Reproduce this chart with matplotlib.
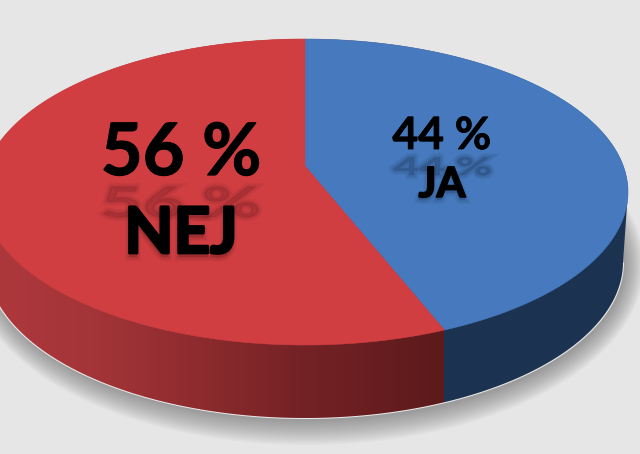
import numpy as np
import matplotlib
matplotlib.use('Agg')
import matplotlib.pyplot as plt
import matplotlib.patheffects as pe
from matplotlib.patches import Polygon, PathPatch
from matplotlib.path import Path
from matplotlib.textpath import TextPath
from matplotlib.font_manager import FontProperties
from matplotlib.transforms import Affine2D
from matplotlib.colors import LinearSegmentedColormap

labels = ['JA', 'NEJ']
shares = [44, 56]
top_colors = ['#4679bd', '#d03e42']

W, H = 640, 454
BG = '#e6e6e6'
cx, cy, rx, ry = 305, 192, 323, 153   # top ellipse
vx, vy = 305, 166                     # where the slices meet (perspective)
bx, by, brx, bry = 305, 262, 318, 156 # bottom ellipse
warp = 0.975                          # perspective squeeze of the first slice
font = 'Lato'


def arc(x0, y0, a, b, t0, t1, n=300):
    # angle measured clockwise from the top, in degrees
    t = np.radians(np.linspace(t0, t1, n))
    return np.column_stack([x0 + a * np.sin(t), y0 - b * np.cos(t)])


fig = plt.figure(figsize=(W / 100, H / 100), dpi=100, facecolor=BG)
ax = fig.add_axes([0, 0, 1, 1])
ax.set_xlim(0, W)
ax.set_ylim(H, 0)
ax.axis('off')

split = 360 * shares[0] / sum(shares) * warp
split_x = cx + rx * np.sin(np.radians(split))

# soft shadow under the pie
steps = 16
for i in range(steps):
    grow = 24 * (1 - i / (steps - 1))
    ax.add_patch(Polygon(arc(bx + 2, by + 3, brx + grow * 0.8, bry + grow, 0, 360),
                         closed=True, fc='#555555', ec='none', alpha=0.04, zorder=1))

# side wall: pale rim, then gradient clipped to the outline
hull = np.vstack([arc(cx, cy, rx, ry, -90, 90), arc(bx, by, brx, bry, 90, 270)])
ax.add_patch(Polygon(arc(bx, by + 0.5, brx + 1, bry + 0.5, 90, 270), closed=True,
                     fc='#e8e8e8', ec='none', zorder=2))
red_side = LinearSegmentedColormap.from_list('red_side', [
    (0.0, '#ad383c'), (0.23, '#a23437'), (0.45, '#8d2b2e'),
    (0.68, '#742225'), (1.0, '#5c1a1b')])
blue_side = LinearSegmentedColormap.from_list('blue_side', ['#1b3250', '#1c3452'])
xs = np.arange(W) + 0.5
row = np.where((xs < split_x)[:, None], red_side(np.clip(xs / split_x, 0, 1))[:, :3],
               blue_side(np.clip((xs - split_x) / (W - split_x), 0, 1))[:, :3])
im = ax.imshow(row[None, :, :], extent=(0, W, H, 0), aspect='auto', zorder=3,
               interpolation='bilinear')
im.set_clip_path(Polygon(hull, closed=True, transform=ax.transData))

# top face
start = 0.0
ends = [split, 360.0]
for color, end in zip(top_colors, ends):
    pts = np.vstack([[vx, vy], arc(cx, cy, rx, ry, start, end)])
    ax.add_patch(Polygon(pts, closed=True, fc=color, ec=color, lw=0.4, zorder=4))
    start = end


def ghost(txt, x, base, size, squash, alpha, color='#000000'):
    # faint blurred reflection / shadow behind the labels
    fp = FontProperties(family=font, weight='bold')
    px = size * 100 / 72
    tp = TextPath((0, 0), txt, size=px, prop=fp)
    box = tp.get_extents()
    tr = Affine2D().translate(-box.width / 2 - box.x0, 0).scale(1, -squash).translate(x, base)
    path = Path(tr.transform(tp.vertices), tp.codes)
    for lw in [6, 4.5, 3, 1.5]:
        ax.add_patch(PathPatch(path, fc=color, ec=color, lw=lw, alpha=alpha, zorder=5))


def label(x, base, txt, size, stroke):
    t = ax.text(x, base, txt, ha='center', va='baseline', fontsize=size,
                fontweight='bold', family=font, color='black', zorder=6)
    t.set_path_effects([pe.withStroke(linewidth=stroke, foreground='black')])


ghost(f'{shares[1]} %', 181, 217, 52, 0.58, 0.028)
ghost(f'{shares[0]} %', 442, 175, 32, 0.55, 0.035)
ghost(labels[1], 181, 257, 46, 1.0, 0.035)
ghost(labels[0], 442, 200, 30, 1.0, 0.03)

label(181, 175, f'{shares[1]} %', 52, 0.9)
label(181, 253, labels[1], 46, 2.0)
label(442, 149, f'{shares[0]} %', 32, 0.6)
label(442, 197, labels[0], 30, 1.2)

fig.savefig('out.png', dpi=100, facecolor=BG)
